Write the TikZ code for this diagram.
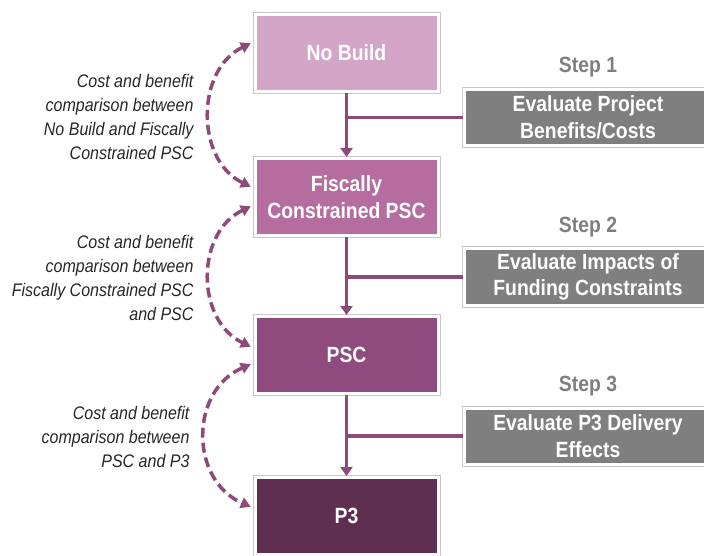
\documentclass[tikz,border=0pt]{standalone}
\usepackage{fontspec}
\setmainfont{Liberation Sans}[FakeStretch=0.88]
\usepackage{tikz}
\usetikzlibrary{arrows.meta,positioning}
\definecolor{nbcol}{HTML}{D3A5C7}
\definecolor{fccol}{HTML}{B56DA0}
\definecolor{psccol}{HTML}{8F4B7D}
\definecolor{ppcol}{HTML}{5E2F51}
\definecolor{linkcol}{HTML}{8E4A7B}
\definecolor{stepcol}{HTML}{7F7F7F}

\begin{document}
\begin{tikzpicture}[x=1pt,y=1pt]
        \useasboundingbox (0,0) rectangle (704,555);
        \tikzstyle{alt node}=[minimum width=183pt,minimum height=77pt,draw=white,line width=3pt,
            preaction={draw=black!22,line width=5pt},text=white,align=center,
            font=\fontsize{22}{26.5}\selectfont\bfseries]
        \tikzstyle{eval node}=[alt node,fill=stepcol,minimum width=247pt,minimum height=56pt]
        \tikzstyle{step label}=[text=stepcol,font=\fontsize{22}{26.5}\selectfont\bfseries]
        \tikzstyle{note}=[anchor=east,align=right,text=black!85,
            font=\fontsize{18.2}{23.7}\selectfont\itshape]
        \tikzstyle{link}=[draw=linkcol,line width=3.5pt]
        \tikzstyle{compare}=[link,dash pattern=on 10pt off 5pt,
            {Triangle[width=11pt,length=10pt]}-{Triangle[width=11pt,length=10pt]},
            shorten <=3pt,shorten >=3pt]

        \node[alt node,fill=nbcol] (nb) at (346.5,502) {No Build};
        \node[alt node,fill=fccol] (fc) at (346.5,358) {Fiscally\\Constrained PSC};
        \node[alt node,fill=psccol] (psc) at (346.5,200) {PSC};
        \node[alt node,fill=ppcol] (pp) at (346.5,39) {P3};

        \node[eval node] (s1) at (588,437.5) {Evaluate Project\\Benefits/Costs};
        \node[eval node] (s2) at (588,278) {Evaluate Impacts of\\Funding Constraints};
        \node[eval node] (s3) at (588,119) {Evaluate P3 Delivery\\Effects};
        \node[step label] (l1) [above=7pt of s1] {Step 1};
        \node[step label] (l2) [above=7pt of s2] {Step 2};
        \node[step label] (l3) [above=7pt of s3] {Step 3};

        \node[note] (n1) at (197,438) {Cost and benefit\\comparison between\\No Build and Fiscally\\Constrained PSC};
        \node[note] (n2) at (197,277) {Cost and benefit\\comparison between\\Fiscally Constrained PSC\\and PSC};
        \node[note] (n3) at (193,118) {Cost and benefit\\comparison between\\PSC and P3};

        \draw[link,-{Triangle[width=12pt,length=9pt]}] (nb) -- (fc);
        \draw[link,-{Triangle[width=12pt,length=9pt]}] (fc) -- (psc);
        \draw[link,-{Triangle[width=12pt,length=9pt]}] (psc) -- (pp);
        \draw[link] (s1.west) -- (s1.west -| nb.south);
        \draw[link] (s2.west) -- (s2.west -| fc.south);
        \draw[link] (s3.west) -- (s3.west -| psc.south);

        \draw[compare] ([yshift=11pt]nb.west) .. controls +(-58,-28) and +(-58,28) .. ([yshift=9pt]fc.west);
        \draw[compare] ([yshift=-8pt]fc.west) .. controls +(-58,-28) and +(-58,28) .. ([yshift=7pt]psc.west);
        \draw[compare] ([yshift=-8pt]psc.west) .. controls +(-64,-28) and +(-64,28) .. ([yshift=8pt]pp.west);
    \end{tikzpicture}
\end{document}
